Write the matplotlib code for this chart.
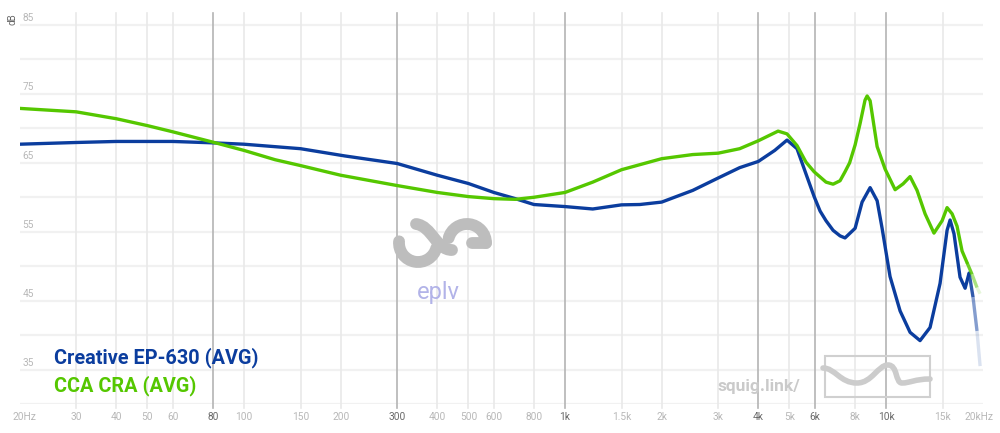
import numpy as np
import matplotlib
matplotlib.use("Agg")
import matplotlib.pyplot as plt
from matplotlib.collections import LineCollection
from matplotlib.patches import Arc, Rectangle, PathPatch
from matplotlib.path import Path
from matplotlib.colors import to_rgb
from matplotlib.transforms import offset_copy

# ---------------- data ----------------
blue_name = "Creative EP-630 (AVG)"
blue_freq = [20, 30, 40, 60, 80, 100, 150, 206, 300, 400, 500, 600, 700, 800,
             1000, 1220, 1500, 1710, 2000, 2500, 3000, 3500, 4000, 4500, 4915,
             5280, 5630, 5970, 6230, 6500, 6840, 7190, 7450, 8010, 8420, 8920,
             9380, 9720, 10290, 11060, 11880, 12760, 13710, 14730, 15490, 15830,
             16280, 17000, 17630, 18140, 18660, 19200, 19630]
blue_db = [67.7, 67.95, 68.1, 68.1, 67.9, 67.7, 67.05, 66.0, 64.9, 63.2, 62.0,
           60.7, 59.8, 58.95, 58.65, 58.3, 58.9, 58.95, 59.3, 61.0, 62.8, 64.3,
           65.2, 66.8, 68.3, 67.05, 63.4, 60.1, 58.0, 56.6, 55.2, 54.4, 54.1,
           55.5, 59.3, 61.4, 59.5, 55.5, 48.5, 43.5, 40.4, 39.2, 41.1, 47.5,
           55.2, 56.7, 54.7, 48.4, 46.8, 49.0, 45.5, 40.6, 35.5]

green_name = "CCA CRA (AVG)"
green_freq = [20, 30, 40, 50, 60, 80, 100, 125, 150, 200, 300, 400, 500, 600,
              700, 800, 1000, 1220, 1500, 2000, 2500, 3000, 3500, 4000, 4610,
              4915, 5280, 5630, 5970, 6500, 6840, 7190, 7450, 7700, 8010, 8300,
              8600, 8730, 8920, 9050, 9380, 9930, 10670, 11300, 11880, 12490,
              13230, 14100, 14950, 15490, 16060, 16640, 17250, 17880, 18530,
              19200, 19630]
green_db = [72.9, 72.4, 71.4, 70.4, 69.5, 68.0, 66.8, 65.45, 64.6, 63.2, 61.7,
            60.7, 60.1, 59.8, 59.7, 60.0, 60.7, 62.2, 64.0, 65.6, 66.2, 66.4,
            67.05, 68.2, 69.6, 69.2, 67.5, 65.1, 63.7, 62.2, 61.9, 62.4, 63.7,
            65.0, 67.6, 70.7, 74.1, 74.7, 74.0, 72.1, 67.35, 64.1, 61.1, 61.95,
            63.0, 61.0, 57.6, 54.8, 56.6, 58.5, 57.6, 55.8, 52.2, 50.5, 48.8,
            46.9, 46.0]

x_ticks = [20, 30, 40, 50, 60, 80, 100, 150, 200, 300, 400, 500, 600, 800,
           1000, 1500, 2000, 3000, 4000, 5000, 6000, 8000, 10000, 15000, 20000]
x_labels = ["20Hz", "30", "40", "50", "60", "80", "100", "150", "200", "300",
            "400", "500", "600", "800", "1k", "1.5k", "2k", "3k", "4k", "5k",
            "6k", "8k", "10k", "15k", "20kHz"]
x_major = [80, 300, 1000, 4000, 6000, 10000]
y_grid = [30, 35, 40, 45, 50, 55, 60, 65, 70, 75, 80, 85]
y_labels = [35, 45, 55, 65, 75, 85]

BLUE = "#0b3d9e"
GREEN = "#55c700"
FONT = "Roboto"

# ---------------- figure ----------------
W, H = 1000, 433
fig = plt.figure(figsize=(W / 100, H / 100), dpi=100)
fig.patch.set_facecolor("white")

def fx(px):
    return px / W

def fy(py):
    return 1 - py / H

left_px, right_px, top_px, bot_px = 19.6, 982.7, 13, 404
ax = fig.add_axes([fx(left_px), fy(bot_px), (right_px - left_px) / W,
                   (bot_px - top_px) / H])
ax.set_xscale("log")
ax.set_xlim(20, 20000)
ymin = 30
ymax = 85 + (25 - top_px) / ((bot_px - 25) / 55)
ax.set_ylim(ymin, ymax)
ax.axis("off")

# horizontal grid
for v in y_grid:
    ax.axhline(v, color="#f1f1f1", lw=1.6, zorder=0)

# vertical grid
for f in x_ticks[1:-1]:
    major = f in x_major
    ax.axvline(f, ymin=-0.01, ymax=1, color="#b4b4b4" if major else "#e9e9e9",
               lw=1.2, zorder=0.5, clip_on=False)

# y labels
ytr = ax.get_yaxis_transform()
for v in y_labels:
    ax.text(0.003, v + 0.25, str(v), transform=ytr, ha="left", va="bottom",
            fontsize=7.3, color="#b8b8b8", family=FONT)

# x labels
xtr = ax.get_xaxis_transform()
ylab = -(417 - bot_px) / (bot_px - top_px)
for i, (f, lab) in enumerate(zip(x_ticks, x_labels)):
    major = f in x_major
    dx = 0
    if i == 0:
        dx = 4.5
    elif i == len(x_ticks) - 1:
        dx = -3.5
    tr = offset_copy(xtr, fig=fig, x=dx, y=0, units="dots")
    ax.text(f, ylab, lab, transform=tr, ha="center", va="center",
            fontsize=7.3, color="#6a6a6a" if major else "#b8b8b8",
            family=FONT, clip_on=False)

fig.text(fx(12), fy(19), "dB", rotation=90, ha="center", va="center",
         fontsize=7, color="#666666", family=FONT)

# ---------------- watermarks (pixel-space overlay, y down) ----------------
logo_col = "#bdbdbd"
lw_logo = 8.5
ax_logo = fig.add_axes([0, 0, 1, 1], zorder=0.8)
ax_logo.set_xlim(0, W)
ax_logo.set_ylim(H, 0)
ax_logo.axis("off")
# left "U" arc (screen angles: 0 right, 90 bottom, 180 left)
ax_logo.add_patch(Arc((418, 243), 38, 38, theta1=15, theta2=185,
                      color=logo_col, lw=lw_logo, capstyle="round"))
# diagonal S stroke
s_verts = [(416, 224), (432, 226), (436, 250), (452, 250)]
ax_logo.add_patch(PathPatch(Path(s_verts, [Path.MOVETO] + [Path.CURVE4] * 3),
                            fill=False, ec=logo_col, lw=lw_logo,
                            capstyle="round"))
# right "G" top arc + bar
ax_logo.add_patch(Arc((467, 243), 38, 38, theta1=195, theta2=360,
                      color=logo_col, lw=lw_logo, capstyle="round"))
ax_logo.plot([486, 472], [243, 243], color=logo_col, lw=lw_logo,
             solid_capstyle="round")
ax_logo.text(438, 293, "eplv", ha="center", va="center", fontsize=17,
             color="#b2b3e8", family=FONT)

# squig.link
ax_logo.text(718, 387, "squig.link/", ha="left", va="center", fontsize=12.5,
             fontweight="bold", color="#cacaca", family=FONT)
ax_logo.add_patch(Rectangle((825, 356), 105, 41, fill=False, ec="#d0d0d0",
                            lw=1.5))
sq_verts = [(823, 368), (835, 368), (840, 383), (857, 383),
            (872, 383), (878, 365), (888, 365),
            (898, 365), (895, 383), (902, 383),
            (910, 383), (915, 379), (930, 379)]
sq_codes = [Path.MOVETO] + [Path.CURVE4] * 12
ax_logo.add_patch(PathPatch(Path(sq_verts, sq_codes), fill=False,
                            ec="#cccccc", lw=4, capstyle="round"))

# ---------------- curves ----------------
def draw_curve(freq, db, color, fade_from):
    ax.plot(freq[:fade_from + 1], db[:fade_from + 1], color=color, lw=2.4,
            solid_capstyle="round", solid_joinstyle="round", zorder=3)
    segs = [[(freq[i], db[i]), (freq[i + 1], db[i + 1])]
            for i in range(fade_from, len(freq) - 1)]
    alphas = np.linspace(0.85, 0.15, len(segs))
    rgb = to_rgb(color)
    lc = LineCollection(segs, colors=[(*rgb, a) for a in alphas],
                        linewidths=2.4, capstyle="butt", zorder=3)
    ax.add_collection(lc)

draw_curve(blue_freq, blue_db, BLUE, blue_freq.index(18140))
draw_curve(green_freq, green_db, GREEN, green_freq.index(17880))

# legend labels
fig.text(fx(54), fy(363), blue_name, ha="left", va="baseline", fontsize=14.3,
         fontweight="bold", color=BLUE, family=FONT)
fig.text(fx(54), fy(391), green_name, ha="left", va="baseline", fontsize=14.3,
         fontweight="bold", color=GREEN, family=FONT)

fig.savefig("out.png", dpi=100, facecolor="white")
